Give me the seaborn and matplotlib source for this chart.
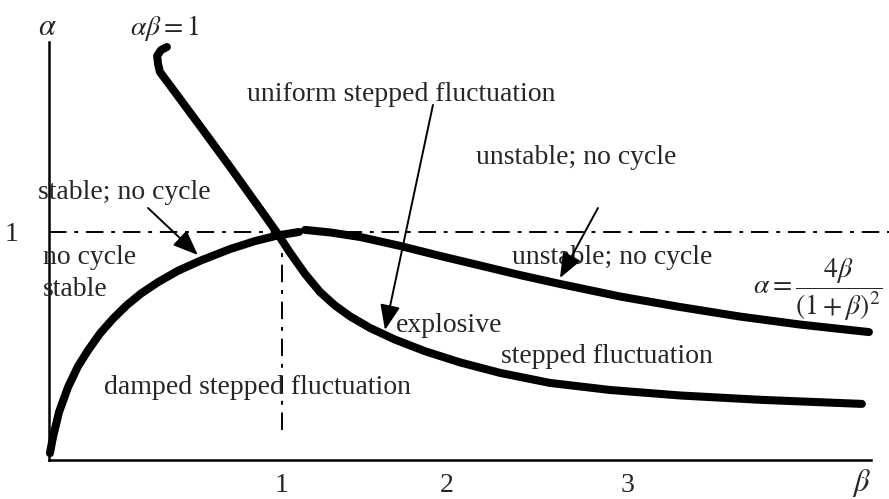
import seaborn as sns
import pandas as pd
import matplotlib.pyplot as plt

# points (beta, alpha), schematic scale
lower_beta = [0.004, 0.017, 0.043, 0.082, 0.124, 0.167, 0.219, 0.275, 0.335, 0.395,
              0.468, 0.554, 0.652, 0.777, 0.884, 0.983, 1.073]
lower_alpha = [0.03, 0.10, 0.21, 0.32, 0.41, 0.48, 0.555, 0.62, 0.68, 0.73,
               0.78, 0.83, 0.875, 0.925, 0.96, 0.985, 1.0]

upper_beta = [1.099, 1.206, 1.335, 1.506, 1.678, 1.850, 2.021, 2.193, 2.451, 2.708,
              2.966, 3.223, 3.519]
upper_alpha = [1.009, 0.998, 0.978, 0.939, 0.895, 0.853, 0.811, 0.772, 0.717, 0.671,
               0.629, 0.594, 0.561]

hyper_beta = [0.506, 0.481, 0.464, 0.468, 0.476, 0.532, 0.648, 0.777, 0.906, 0.979,
              1.034, 1.099, 1.163, 1.227, 1.292, 1.378, 1.485, 1.614, 1.764, 1.936,
              2.150, 2.408, 2.708, 3.052, 3.489]
hyper_alpha = [1.811, 1.798, 1.772, 1.737, 1.702, 1.625, 1.465, 1.285, 1.101, 0.996,
               0.910, 0.816, 0.737, 0.678, 0.630, 0.579, 0.528, 0.477, 0.428, 0.382,
               0.338, 0.307, 0.283, 0.264, 0.246]

tick_pos = [1.0, 1.708, 2.485]
tick_labels = ['1', '2', '3']

sns.set_style("white")
plt.rcParams['font.family'] = ['Liberation Serif', 'DejaVu Serif']
plt.rcParams['mathtext.fontset'] = 'stix'

fig = plt.figure(figsize=(8.89, 4.99), dpi=100)
ax = fig.add_axes([49 / 889, 39 / 499, 822 / 889, 418 / 499])

curves = pd.DataFrame({
    'beta': lower_beta + upper_beta + hyper_beta,
    'alpha': lower_alpha + upper_alpha + hyper_alpha,
    'curve': ['low'] * len(lower_beta) + ['up'] * len(upper_beta) + ['hyp'] * len(hyper_beta),
})
for name, grp in curves.groupby('curve'):
    sns.lineplot(data=grp, x='beta', y='alpha', sort=False, estimator=None,
                 color='black', lw=5.8, solid_capstyle='round', solid_joinstyle='round',
                 ax=ax, clip_on=False)

# reference lines at alpha = 1 and beta = 1
ax.plot([0, 3.605], [1, 1], color='black', lw=1.4, ls=(0, (9, 4, 2, 4)), clip_on=False)
ax.plot([1, 1], [0.132, 0.965], color='black', lw=1.4, ls=(0, (9, 4, 2, 4)))

ax.set_xlim(0, 3.528)
ax.set_ylim(0, 1.833)
sns.despine(ax=ax)
for s in ['left', 'bottom']:
    ax.spines[s].set_linewidth(1.8)
    ax.spines[s].set_color('black')
ax.set_xticks(tick_pos)
ax.set_xticklabels(tick_labels, fontsize=20)
ax.set_yticks([1])
ax.set_yticklabels(['1'], fontsize=20)
ax.tick_params(axis='x', length=0, pad=9)
ax.tick_params(axis='y', length=0, pad=22)
ax.set_xlabel('')
ax.set_ylabel('')

fs = 20
ax.text(-0.009, 1.895, r'$\alpha$', fontsize=22, ha='center', va='center', clip_on=False)
ax.text(3.485, -0.100, r'$\beta$', fontsize=22, ha='center', va='center', clip_on=False)
ax.text(0.498, 1.895, r'$\alpha\beta = 1$', fontsize=fs, ha='center', va='center', clip_on=False)
ax.text(3.30, 0.746, r'$\alpha = \dfrac{4\beta}{(1+\beta)^2}$', fontsize=fs,
        ha='center', va='center', clip_on=False)

ax.text(1.511, 1.601, 'uniform stepped fluctuation', fontsize=fs, ha='center', va='center')
ax.text(2.262, 1.325, 'unstable; no cycle', fontsize=fs, ha='center', va='center')
ax.text(2.416, 0.890, 'unstable; no cycle', fontsize=fs, ha='center', va='center')
ax.text(0.322, 1.171, 'stable; no cycle', fontsize=fs, ha='center', va='center', clip_on=False)
ax.text(-0.026, 0.886, 'no cycle', fontsize=fs, ha='left', va='center', clip_on=False)
ax.text(-0.026, 0.746, 'stable', fontsize=fs, ha='left', va='center', clip_on=False)
ax.text(1.717, 0.590, 'explosive', fontsize=fs, ha='center', va='center')
ax.text(2.395, 0.452, 'stepped fluctuation', fontsize=fs, ha='center', va='center')
ax.text(0.893, 0.316, 'damped stepped fluctuation', fontsize=fs, ha='center', va='center')

arrow = dict(arrowstyle='-|>,head_length=0.7,head_width=0.28', lw=1.4, color='black',
             mutation_scale=22, shrinkA=0, shrinkB=0)
ax.annotate('', xy=(0.639, 0.899), xytext=(0.425, 1.105), arrowprops=arrow)
ax.annotate('', xy=(1.442, 0.570), xytext=(1.648, 1.557), arrowprops=arrow)
ax.annotate('', xy=(2.193, 0.798), xytext=(2.356, 1.105), arrowprops=arrow)

fig.savefig('out.png', dpi=100)
